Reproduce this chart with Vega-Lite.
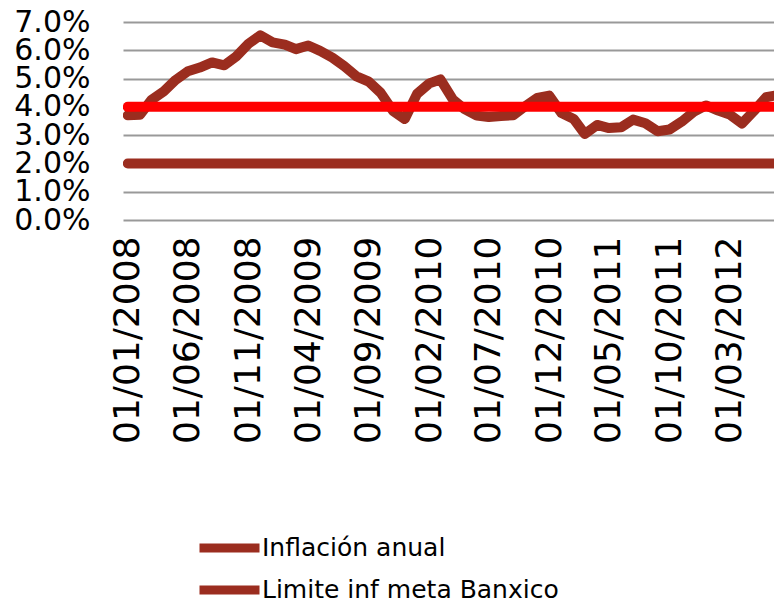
{
  "$schema": "https://vega.github.io/schema/vega-lite/v6.json",
  "autosize": "none",
  "width": 651,
  "height": 198,
  "padding": {"left": 123, "top": 22, "right": 0, "bottom": 383},
  "background": "white",
  "config": {
    "view": {"stroke": null},
    "font": "DejaVu Sans"
  },
  "data": {
    "values": [
      {"fecha": "2008-01-01", "Inflación anual": 3.70, "Limite inf meta Banxico": 2, "Limite sup meta Banxico": 4},
      {"fecha": "2008-02-01", "Inflación anual": 3.72, "Limite inf meta Banxico": 2, "Limite sup meta Banxico": 4},
      {"fecha": "2008-03-01", "Inflación anual": 4.25, "Limite inf meta Banxico": 2, "Limite sup meta Banxico": 4},
      {"fecha": "2008-04-01", "Inflación anual": 4.55, "Limite inf meta Banxico": 2, "Limite sup meta Banxico": 4},
      {"fecha": "2008-05-01", "Inflación anual": 4.95, "Limite inf meta Banxico": 2, "Limite sup meta Banxico": 4},
      {"fecha": "2008-06-01", "Inflación anual": 5.26, "Limite inf meta Banxico": 2, "Limite sup meta Banxico": 4},
      {"fecha": "2008-07-01", "Inflación anual": 5.39, "Limite inf meta Banxico": 2, "Limite sup meta Banxico": 4},
      {"fecha": "2008-08-01", "Inflación anual": 5.57, "Limite inf meta Banxico": 2, "Limite sup meta Banxico": 4},
      {"fecha": "2008-09-01", "Inflación anual": 5.47, "Limite inf meta Banxico": 2, "Limite sup meta Banxico": 4},
      {"fecha": "2008-10-01", "Inflación anual": 5.78, "Limite inf meta Banxico": 2, "Limite sup meta Banxico": 4},
      {"fecha": "2008-11-01", "Inflación anual": 6.23, "Limite inf meta Banxico": 2, "Limite sup meta Banxico": 4},
      {"fecha": "2008-12-01", "Inflación anual": 6.53, "Limite inf meta Banxico": 2, "Limite sup meta Banxico": 4},
      {"fecha": "2009-01-01", "Inflación anual": 6.28, "Limite inf meta Banxico": 2, "Limite sup meta Banxico": 4},
      {"fecha": "2009-02-01", "Inflación anual": 6.20, "Limite inf meta Banxico": 2, "Limite sup meta Banxico": 4},
      {"fecha": "2009-03-01", "Inflación anual": 6.04, "Limite inf meta Banxico": 2, "Limite sup meta Banxico": 4},
      {"fecha": "2009-04-01", "Inflación anual": 6.17, "Limite inf meta Banxico": 2, "Limite sup meta Banxico": 4},
      {"fecha": "2009-05-01", "Inflación anual": 5.98, "Limite inf meta Banxico": 2, "Limite sup meta Banxico": 4},
      {"fecha": "2009-06-01", "Inflación anual": 5.74, "Limite inf meta Banxico": 2, "Limite sup meta Banxico": 4},
      {"fecha": "2009-07-01", "Inflación anual": 5.44, "Limite inf meta Banxico": 2, "Limite sup meta Banxico": 4},
      {"fecha": "2009-08-01", "Inflación anual": 5.08, "Limite inf meta Banxico": 2, "Limite sup meta Banxico": 4},
      {"fecha": "2009-09-01", "Inflación anual": 4.89, "Limite inf meta Banxico": 2, "Limite sup meta Banxico": 4},
      {"fecha": "2009-10-01", "Inflación anual": 4.50, "Limite inf meta Banxico": 2, "Limite sup meta Banxico": 4},
      {"fecha": "2009-11-01", "Inflación anual": 3.86, "Limite inf meta Banxico": 2, "Limite sup meta Banxico": 4},
      {"fecha": "2009-12-01", "Inflación anual": 3.57, "Limite inf meta Banxico": 2, "Limite sup meta Banxico": 4},
      {"fecha": "2010-01-01", "Inflación anual": 4.46, "Limite inf meta Banxico": 2, "Limite sup meta Banxico": 4},
      {"fecha": "2010-02-01", "Inflación anual": 4.83, "Limite inf meta Banxico": 2, "Limite sup meta Banxico": 4},
      {"fecha": "2010-03-01", "Inflación anual": 4.97, "Limite inf meta Banxico": 2, "Limite sup meta Banxico": 4},
      {"fecha": "2010-04-01", "Inflación anual": 4.27, "Limite inf meta Banxico": 2, "Limite sup meta Banxico": 4},
      {"fecha": "2010-05-01", "Inflación anual": 3.92, "Limite inf meta Banxico": 2, "Limite sup meta Banxico": 4},
      {"fecha": "2010-06-01", "Inflación anual": 3.69, "Limite inf meta Banxico": 2, "Limite sup meta Banxico": 4},
      {"fecha": "2010-07-01", "Inflación anual": 3.64, "Limite inf meta Banxico": 2, "Limite sup meta Banxico": 4},
      {"fecha": "2010-08-01", "Inflación anual": 3.68, "Limite inf meta Banxico": 2, "Limite sup meta Banxico": 4},
      {"fecha": "2010-09-01", "Inflación anual": 3.70, "Limite inf meta Banxico": 2, "Limite sup meta Banxico": 4},
      {"fecha": "2010-10-01", "Inflación anual": 4.02, "Limite inf meta Banxico": 2, "Limite sup meta Banxico": 4},
      {"fecha": "2010-11-01", "Inflación anual": 4.32, "Limite inf meta Banxico": 2, "Limite sup meta Banxico": 4},
      {"fecha": "2010-12-01", "Inflación anual": 4.40, "Limite inf meta Banxico": 2, "Limite sup meta Banxico": 4},
      {"fecha": "2011-01-01", "Inflación anual": 3.78, "Limite inf meta Banxico": 2, "Limite sup meta Banxico": 4},
      {"fecha": "2011-02-01", "Inflación anual": 3.57, "Limite inf meta Banxico": 2, "Limite sup meta Banxico": 4},
      {"fecha": "2011-03-01", "Inflación anual": 3.04, "Limite inf meta Banxico": 2, "Limite sup meta Banxico": 4},
      {"fecha": "2011-04-01", "Inflación anual": 3.36, "Limite inf meta Banxico": 2, "Limite sup meta Banxico": 4},
      {"fecha": "2011-05-01", "Inflación anual": 3.25, "Limite inf meta Banxico": 2, "Limite sup meta Banxico": 4},
      {"fecha": "2011-06-01", "Inflación anual": 3.28, "Limite inf meta Banxico": 2, "Limite sup meta Banxico": 4},
      {"fecha": "2011-07-01", "Inflación anual": 3.55, "Limite inf meta Banxico": 2, "Limite sup meta Banxico": 4},
      {"fecha": "2011-08-01", "Inflación anual": 3.42, "Limite inf meta Banxico": 2, "Limite sup meta Banxico": 4},
      {"fecha": "2011-09-01", "Inflación anual": 3.14, "Limite inf meta Banxico": 2, "Limite sup meta Banxico": 4},
      {"fecha": "2011-10-01", "Inflación anual": 3.20, "Limite inf meta Banxico": 2, "Limite sup meta Banxico": 4},
      {"fecha": "2011-11-01", "Inflación anual": 3.48, "Limite inf meta Banxico": 2, "Limite sup meta Banxico": 4},
      {"fecha": "2011-12-01", "Inflación anual": 3.82, "Limite inf meta Banxico": 2, "Limite sup meta Banxico": 4},
      {"fecha": "2012-01-01", "Inflación anual": 4.05, "Limite inf meta Banxico": 2, "Limite sup meta Banxico": 4},
      {"fecha": "2012-02-01", "Inflación anual": 3.87, "Limite inf meta Banxico": 2, "Limite sup meta Banxico": 4},
      {"fecha": "2012-03-01", "Inflación anual": 3.73, "Limite inf meta Banxico": 2, "Limite sup meta Banxico": 4},
      {"fecha": "2012-04-01", "Inflación anual": 3.41, "Limite inf meta Banxico": 2, "Limite sup meta Banxico": 4},
      {"fecha": "2012-05-01", "Inflación anual": 3.85, "Limite inf meta Banxico": 2, "Limite sup meta Banxico": 4},
      {"fecha": "2012-06-01", "Inflación anual": 4.34, "Limite inf meta Banxico": 2, "Limite sup meta Banxico": 4},
      {"fecha": "2012-07-01", "Inflación anual": 4.42, "Limite inf meta Banxico": 2, "Limite sup meta Banxico": 4}
    ]
  },
  "transform": [
    {"fold": ["Inflación anual", "Limite inf meta Banxico", "Limite sup meta Banxico"], "as": ["serie", "valor"]}
  ],
  "mark": {"type": "line", "strokeWidth": 10, "strokeCap": "round", "strokeJoin": "round", "clip": true},
  "encoding": {
    "x": {
      "field": "fecha",
      "type": "temporal",
      "scale": {
        "type": "utc",
        "domain": [
          {"year": 2007, "month": 12, "date": 20, "utc": true},
          {"year": 2012, "month": 6, "date": 21, "utc": true}
        ]
      },
      "axis": {
        "title": null,
        "grid": false,
        "domain": false,
        "ticks": false,
        "labelExpr": "utcFormat(datum.value, '%d/%m/%Y')",
        "labelAngle": 270,
        "labelFontSize": 36,
        "labelColor": "#000000",
        "labelPadding": 16,
        "labelLimit": 400,
        "labelOverlap": false,
        "labelFlush": false,
        "labelBound": false,
        "values": [
          {"year": 2008, "month": 1, "date": 1, "utc": true},
          {"year": 2008, "month": 6, "date": 1, "utc": true},
          {"year": 2008, "month": 11, "date": 1, "utc": true},
          {"year": 2009, "month": 4, "date": 1, "utc": true},
          {"year": 2009, "month": 9, "date": 1, "utc": true},
          {"year": 2010, "month": 2, "date": 1, "utc": true},
          {"year": 2010, "month": 7, "date": 1, "utc": true},
          {"year": 2010, "month": 12, "date": 1, "utc": true},
          {"year": 2011, "month": 5, "date": 1, "utc": true},
          {"year": 2011, "month": 10, "date": 1, "utc": true},
          {"year": 2012, "month": 3, "date": 1, "utc": true}
        ]
      }
    },
    "y": {
      "field": "valor",
      "type": "quantitative",
      "scale": {"domain": [0, 7], "nice": false},
      "axis": {
        "title": null,
        "values": [0, 1, 2, 3, 4, 5, 6, 7],
        "labelExpr": "format(datum.value, '.1f') + '%'",
        "domain": false,
        "ticks": false,
        "grid": true,
        "gridColor": "#999999",
        "gridWidth": 2,
        "gridOpacity": 1,
        "labelFontSize": 30,
        "labelColor": "#000000",
        "labelPadding": 33,
        "labelFlush": false,
        "labelOverlap": false,
        "labelBound": false
      }
    },
    "color": {
      "field": "serie",
      "type": "nominal",
      "scale": {
        "domain": ["Inflación anual", "Limite inf meta Banxico", "Limite sup meta Banxico"],
        "range": ["#9B2D1F", "#9B2D1F", "#FF0000"]
      },
      "legend": {
        "title": null,
        "values": ["Inflación anual", "Limite inf meta Banxico"],
        "orient": "none",
        "legendX": 72,
        "legendY": 513,
        "direction": "vertical",
        "symbolType": "stroke",
        "symbolSize": 3600,
        "symbolStrokeWidth": 9,
        "clipHeight": 26,
        "labelFontSize": 25,
        "labelColor": "#000000",
        "labelOffset": -2,
        "rowPadding": 16,
        "labelLimit": 500
      }
    }
  }
}
